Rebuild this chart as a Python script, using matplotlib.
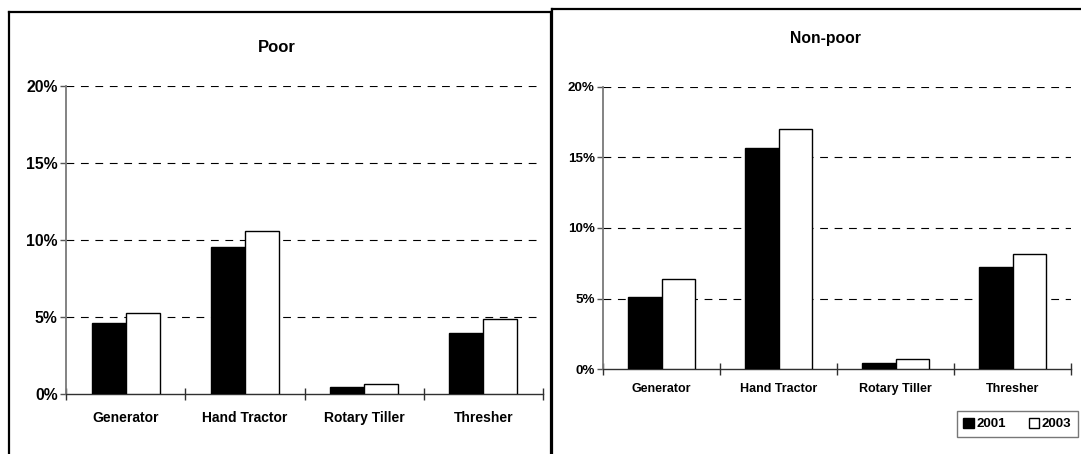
import matplotlib
matplotlib.use("Agg")
import matplotlib.pyplot as plt
from matplotlib.lines import Line2D
from matplotlib.patches import Patch
import numpy as np

plt.rcParams['font.family'] = ['Liberation Sans', 'DejaVu Sans']
plt.rcParams['font.weight'] = 'bold'

categories = ["Generator", "Hand Tractor", "Rotary Tiller", "Thresher"]
years = ["2001", "2003"]
poor_2001 = [4.58, 9.55, 0.46, 3.93]
poor_2003 = [5.27, 10.6, 0.68, 4.90]
nonpoor_2001 = [5.10, 15.70, 0.45, 7.25]
nonpoor_2003 = [6.40, 17.05, 0.68, 8.13]
yticks = [0, 5, 10, 15, 20]
ytick_labels = ["0%", "5%", "10%", "15%", "20%"]

W, H = 1081, 454
fig = plt.figure(figsize=(W / 100, H / 100), dpi=100)
fig.patch.set_facecolor("white")


def fx(px):
    return px / W


def fy(py):
    return 1 - py / H


def box(x0, y0, w, h):
    return [fx(x0), fy(y0 + h), w / W, h / H]


def draw_panel(ax, v1, v2, tick_fs, cat_fs, cat_pad):
    x = np.arange(len(categories))
    bw = 0.285
    ax.bar(x - bw / 2, v1, bw, color="black", edgecolor="black", linewidth=1.0, zorder=3)
    ax.bar(x + bw / 2, v2, bw, color="white", edgecolor="black", linewidth=1.0, zorder=3)
    ax.set_xlim(-0.5, len(categories) - 0.5)
    ax.set_ylim(0, 20)
    ax.set_yticks(yticks)
    ax.set_yticklabels(ytick_labels, fontsize=tick_fs, fontweight="bold")
    ax.set_xticks(x)
    ax.set_xticklabels(categories, fontsize=cat_fs, fontweight="bold")
    ax.set_xticks(np.arange(-0.5, len(categories)), minor=True)
    ax.tick_params(axis="x", which="major", length=0, pad=cat_pad)
    ax.tick_params(axis="x", which="minor", length=8, direction="inout", width=1.0, color="#303030")
    ax.tick_params(axis="y", which="major", length=4, direction="out", width=1.0, color="#555555", pad=2)
    for s in ["top", "right"]:
        ax.spines[s].set_visible(False)
    ax.spines["left"].set_color("#7a7a7a")
    ax.spines["left"].set_linewidth(1.3)
    ax.spines["bottom"].set_color("#303030")
    ax.spines["bottom"].set_linewidth(1.0)
    for yv in yticks[1:]:
        ax.axhline(yv, color="black", linestyle=(0, (7, 6)), linewidth=0.8, zorder=1)
    ax.set_axisbelow(True)


ax1 = fig.add_axes(box(66, 86, 477, 308))
draw_panel(ax1, poor_2001, poor_2003, 11.3, 10.0, 12)
ax2 = fig.add_axes(box(603, 87, 468, 282))
draw_panel(ax2, nonpoor_2001, nonpoor_2003, 9.6, 9.0, 10)

fig.text(fx(277), fy(47), "Poor", ha="center", va="center", fontsize=12, fontweight="bold")
fig.text(fx(825), fy(39), "Non-poor", ha="center", va="center", fontsize=11.3, fontweight="bold")

# panel borders
lw = 1.6
for (xa, ya, xb, yb) in [(9, 12, 9, 454), (9, 12, 551, 12), (551, 12, 551, 454),
                         (552, 9, 552, 454), (552, 9, 1081, 9)]:
    fig.add_artist(Line2D([fx(xa), fx(xb)], [fy(ya), fy(yb)], color="black", linewidth=lw,
                          transform=fig.transFigure, solid_capstyle="projecting"))

handles = [Patch(facecolor="black", edgecolor="black", label=years[0]),
           Patch(facecolor="white", edgecolor="black", label=years[1])]
leg = fig.legend(handles=handles, loc="upper right", bbox_to_anchor=(fx(1078), fy(411)),
                 ncol=2, frameon=True, fancybox=False, fontsize=9.5, handlelength=0.8,
                 handleheight=0.8, handletextpad=0.2, columnspacing=1.7, borderpad=0.5,
                 borderaxespad=0)
leg.get_frame().set_edgecolor("#555555")
leg.get_frame().set_linewidth(1.0)
for t in leg.get_texts():
    t.set_fontweight("bold")

fig.savefig("out.png", dpi=100, facecolor="white")
